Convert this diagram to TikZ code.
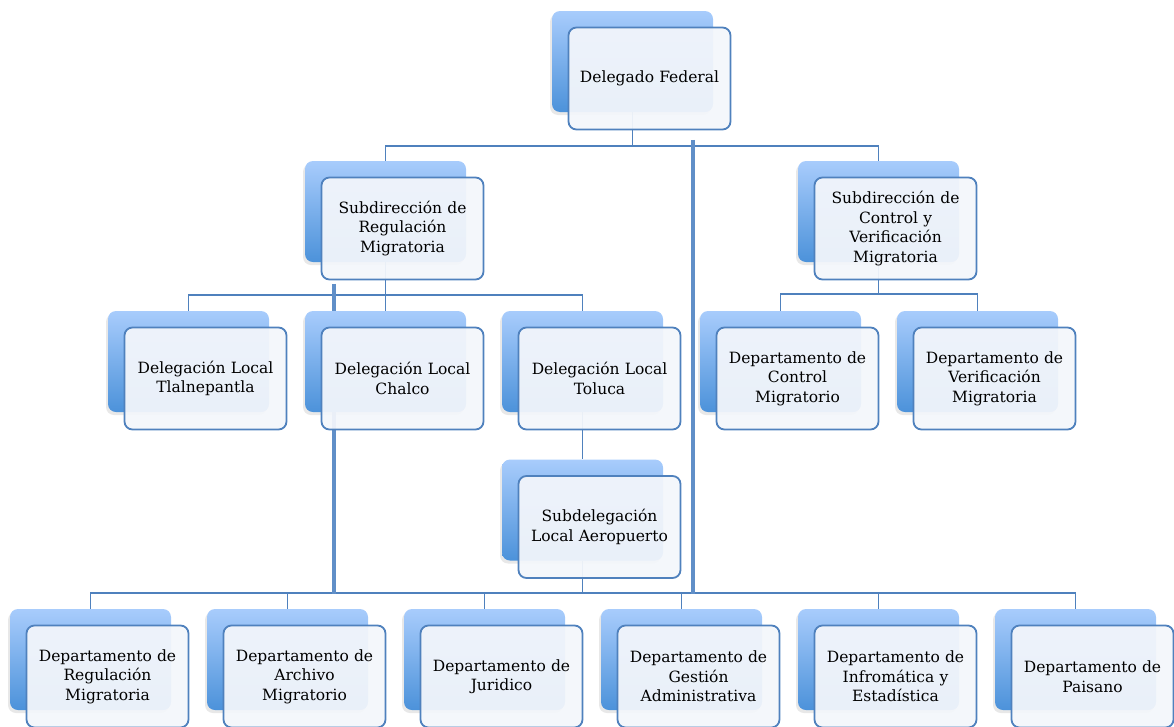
\documentclass[tikz,border=0pt]{standalone}
\usepackage{fontspec}
\setmainfont{DejaVu Serif}
\usepackage{tikz}
\usetikzlibrary{shadows}
\usetikzlibrary{backgrounds}
\usetikzlibrary{calc}

\definecolor{orgline}{RGB}{79,129,189}
\definecolor{orgtrunk}{RGB}{96,143,200}
\definecolor{orgtop}{RGB}{168,204,252}
\definecolor{orgbot}{RGB}{76,146,218}
\definecolor{orgfill}{RGB}{243,246,251}

\begin{document}
\begin{tikzpicture}[x=1pt,y=-1pt,
    back/.style={rounded corners=8pt, minimum width=161pt, minimum height=101pt, inner sep=0pt,
      top color=orgtop, bottom color=orgbot,
      drop shadow={shadow xshift=-2pt, shadow yshift=-3pt, opacity=0.18}},
    front/.style={rounded corners=8pt, minimum width=162pt, minimum height=102pt, inner sep=2pt,
      text width=156pt, align=center, draw=orgline, line width=1.8pt,
      fill=orgfill, fill opacity=0.94, text opacity=1, font=\fontsize{15.5}{19.5}\selectfont},
    link/.style={orgline, line width=1.9pt},
    trunk/.style={orgtrunk, line width=4.5pt}]
                \useasboundingbox (0,0) rectangle (1174,726);

                % Level 1: Delegado Federal
                \node[back] (delb) at (632.5, 61.5) {};
                \node[front] (del) at (649.5, 78.5) {Delegado Federal};

                % Level 2: Subdirecciones
                \node[back] (regb) at (385.5, 211.5) {};
                \node[front] (reg) at (402.5, 228.5) {Subdirección de\\Regulación\\Migratoria};
                \node[back] (ctlb) at (878.5, 211.5) {};
                \node[front] (ctl) at (895.5, 228.5) {Subdirección de\\Control y\\Verificación\\Migratoria};

                % Level 3: Delegaciones locales
                \node[back] (tlab) at (188.5, 361.5) {};
                \node[front] (tla) at (205.5, 378.5) {Delegación Local\\Tlalnepantla};
                \node[back] (chab) at (385.5, 361.5) {};
                \node[front] (cha) at (402.5, 378.5) {Delegación Local\\Chalco};
                \node[back] (tolb) at (582.5, 361.5) {};
                \node[front] (tol) at (599.5, 378.5) {Delegación Local\\Toluca};

                % Level 3: Departamentos de control
                \node[back] (dcb) at (780.5, 361.5) {};
                \node[front] (dc) at (797.5, 378.5) {Departamento de\\Control\\Migratorio};
                \node[back] (dvb) at (977.5, 361.5) {};
                \node[front] (dv) at (994.5, 378.5) {Departamento de\\Verificación\\Migratoria};

                % Level 4: Subdelegacion
                \node[back] (subb) at (582.5, 510) {};
                \node[front] (sub) at (599.5, 527) {Subdelegación\\Local Aeropuerto};

                % Level 5: Departamentos
                \node[back] (d1b) at (90.5, 659.5) {};
                \node[front] (d1) at (107.5, 676.5) {Departamento de\\Regulación\\Migratoria};
                \node[back] (d2b) at (287.5, 659.5) {};
                \node[front] (d2) at (304.5, 676.5) {Departamento de\\Archivo\\Migratorio};
                \node[back] (d3b) at (484.5, 659.5) {};
                \node[front] (d3) at (501.5, 676.5) {Departamento de\\Juridico};
                \node[back] (d4b) at (681.5, 659.5) {};
                \node[front] (d4) at (698.5, 676.5) {Departamento de\\Gestión\\Administrativa};
                \node[back] (d5b) at (878.5, 659.5) {};
                \node[front] (d5) at (895.5, 676.5) {Departamento de\\Infromática y\\Estadística};
                \node[back] (d6b) at (1075.5, 659.5) {};
                \node[front] (d6) at (1092.5, 676.5) {Departamento de\\Paisano};

                % Connectors (behind the boxes)
                \begin{scope}[on background layer]
                \draw[link] (delb.south) -- ++(0,34) -| (regb.north);
                \draw[link] (delb.south) -- ++(0,34) -| (ctlb.north);

                \draw[link] (regb.south) -- ++(0,33) -| (tlab.north);
                \draw[link] (regb.south) -- (chab.north);
                \draw[link] (regb.south) -- ++(0,33) -| (tolb.north);

                \draw[link] (ctlb.south) -- ++(0,32) -| (dcb.north);
                \draw[link] (ctlb.south) -- ++(0,32) -| (dvb.north);

                \draw[link] (tolb.south) -- (subb.north);

                \draw[link] (subb.south) -- ++(0,32) -| (d1b.north);
                \draw[link] (subb.south) -- ++(0,32) -| (d2b.north);
                \draw[link] (subb.south) -- ++(0,32) -| (d3b.north);
                \draw[link] (subb.south) -- ++(0,32) -| (d4b.north);
                \draw[link] (subb.south) -- ++(0,32) -| (d5b.north);
                \draw[link] (subb.south) -- ++(0,32) -| (d6b.north);

                % thick lines down to the bottom bar
                \draw[trunk] ($(del.south)+(43.5,9.5)$) -- ++(0,454); % from Delegado
                \draw[trunk] ($(reg.south)+(-68.5,3.5)$) -- ++(0,310); % from Regulacion
                \end{scope}
            \end{tikzpicture}
\end{document}
